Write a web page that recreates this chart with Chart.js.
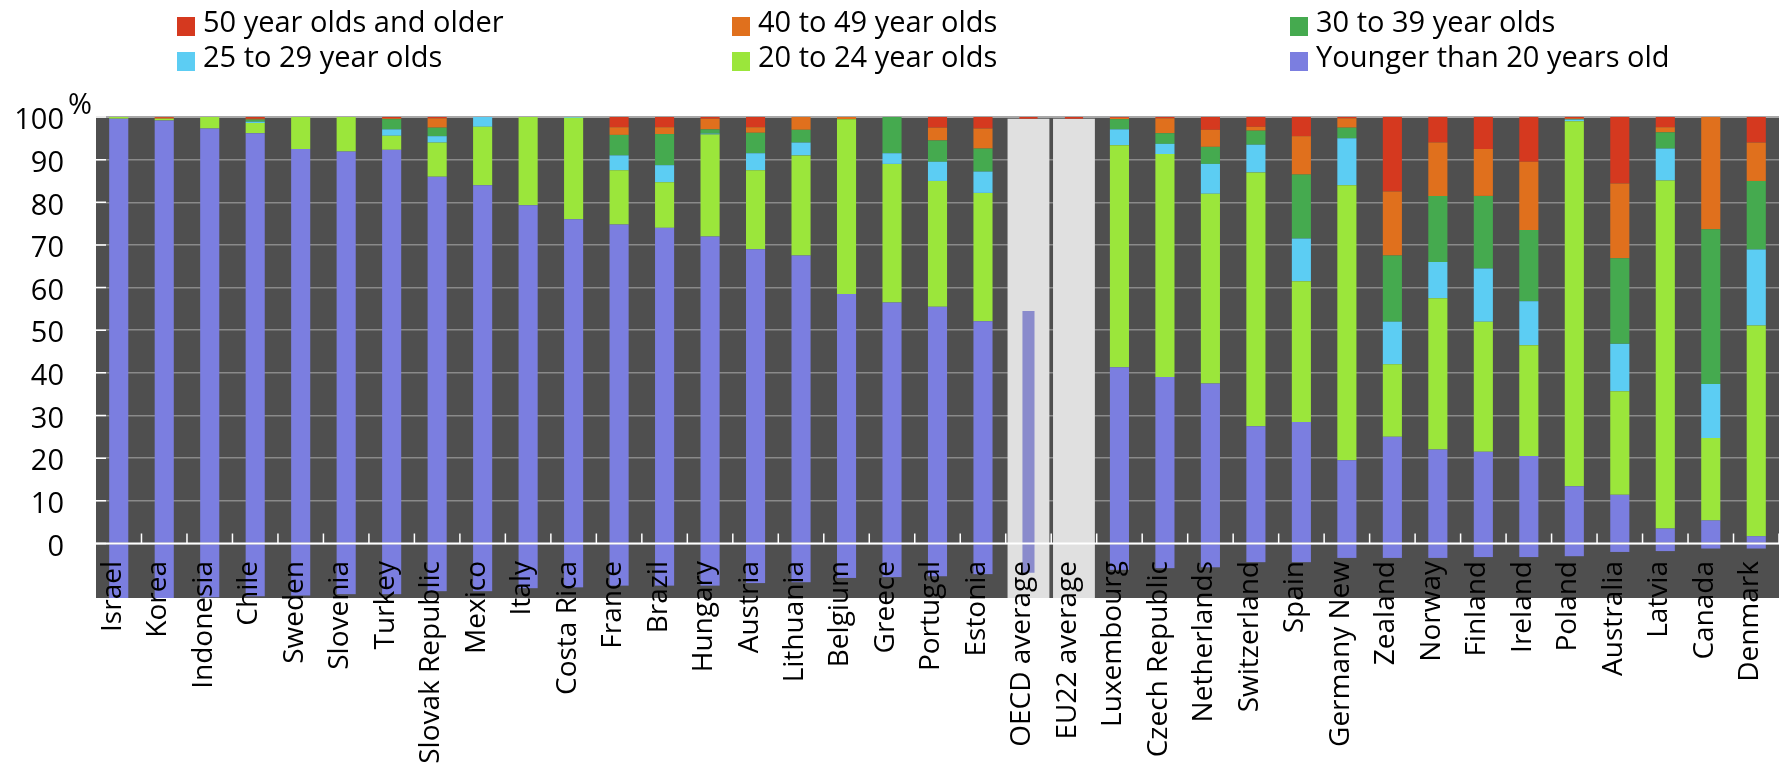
<!DOCTYPE html>
<html>
<head>
<meta charset="utf-8">
<script src="https://cdn.jsdelivr.net/npm/chart.js@4.4.0/dist/chart.umd.min.js"></script>
<style>
html,body{margin:0;padding:0;background:#ffffff;}
canvas{display:block;}
</style>
</head>
<body>
<canvas id="chart" width="1787" height="774"></canvas>
<script>
// ---------- data ----------
const categories = ["Israel","Korea","Indonesia","Chile","Sweden","Slovenia","Turkey","Slovak Republic","Mexico","Italy","Costa Rica","France","Brazil","Hungary","Austria","Lithuania","Belgium","Greece","Portugal","Estonia","OECD average","EU22 average","Luxembourg","Czech Republic","Netherlands","Switzerland","Spain","Germany New","Zealand","Norway","Finland","Ireland","Poland","Australia","Latvia","Canada","Denmark"];

const under20   = [99.6,99.2,97.3,96.2,92.5,91.9,92.3,86,84,79.3,76,74.8,74,72,69,67.5,58.5,56.5,55.5,52.1,null,null,41.3,39,37.5,27.5,28.5,19.5,25,22,21.5,20.5,13.4,11.4,3.5,5.4,1.7];
const age20to24 = [0.4,0.4,2.7,2.4,7.5,8.1,3.3,8,13.7,20.7,23.8,12.7,10.7,23.9,18.5,23.5,41,32.5,29.5,30.1,null,null,52.1,52.3,44.5,59.5,33,64.5,17,35.5,30.5,26,85.6,24.3,81.6,19.3,49.4];
const age25to29 = [0,0,0,0.3,0,0,1.5,1.5,2.3,0,0.2,3.5,4,0.2,4,3,0,2.5,4.5,5.0,null,null,3.7,2.4,7,6.5,10,11,10,8.5,12.5,10.3,0.4,11.1,7.5,12.7,17.8];
const age30to39 = [0,0,0,0.5,0,0,2.4,2,0,0,0,4.8,7.3,1.0,4.8,3,0,8.5,5,5.4,null,null,2.4,2.5,4,3.3,15,2.5,15.5,15.5,17,16.7,0.1,20.1,3.8,36.3,16.1];
const age40to49 = [0,0.2,0,0.2,0,0,0.2,2.2,0,0,0,1.8,1.6,2.5,1.3,3,0.5,0,3,4.7,null,null,0.3,3.5,4,0.9,9,2.2,15,12.5,11,16,0.2,17.5,1.2,26.3,9];
const age50plus = [0,0.2,0,0.4,0,0,0.3,0.3,0,0,0,2.4,2.4,0.4,2.4,0,0,0,2.5,2.7,null,null,0.2,0.3,3,2.3,4.5,0.3,17.5,6,7.5,10.5,0.3,15.6,2.4,0,6];
// purple part of each bar drawn below the zero line in the original
const belowZero = [-12.8,-12.8,-12.6,-12.4,-12.2,-11.9,-11.9,-11.2,-11.2,-10.5,-10.3,-9.9,-9.9,-9.9,-9.3,-9.1,-8.1,-7.9,-7.7,-7.2,null,null,-6.2,-5.8,-5.6,-4.4,-4.4,-3.4,-3.4,-3.4,-3.2,-3.2,-3.0,-2.0,-1.8,-1.2,-1.2];

// averages (highlighted columns)
const averageBand = [{x:"OECD average", y:[-12.8, 99.6]}, {x:"EU22 average", y:[-12.8, 99.6]}];
const averageTop  = [{x:"OECD average", y:[99.6, 100]}, {x:"EU22 average", y:[99.6, 100]}];
const oecdUnder20 = [{x:"OECD average", y:[-6.9, 54.5]}];

const yTickValues = [0,10,20,30,40,50,60,70,80,90,100];
const seriesLabels = ["Younger than 20 years old","20 to 24 year olds","25 to 29 year olds","30 to 39 year olds","40 to 49 year olds","50 year olds and older"];
const seriesColors = ["#7b7ee0","#9be63b","#5ccdf3","#45aa4f","#e0701d","#d5391f"];
const legendRows = [
  ["50 year olds and older","40 to 49 year olds","30 to 39 year olds"],
  ["25 to 29 year olds","20 to 24 year olds","Younger than 20 years old"]
];

// ---------- chart ----------
const FONT = '"Open Sans", "Noto Sans", sans-serif';
const seriesData = [under20, age20to24, age25to29, age30to39, age40to49, age50plus];

const common = { borderWidth: 0, categoryPercentage: 1.0, grouped: false };
const datasets = seriesData.map((d, i) => Object.assign({
  label: seriesLabels[i],
  data: d,
  backgroundColor: seriesColors[i],
  barPercentage: 0.42,
  xAxisID: 'x',
  order: 1
}, common));
datasets.push(Object.assign({
  label: 'below',
  data: belowZero,
  backgroundColor: seriesColors[0],
  barPercentage: 0.42,
  xAxisID: 'x',
  order: 1
}, common));
datasets.push(Object.assign({
  label: 'avgBand',
  data: averageBand,
  backgroundColor: '#e0e0e0',
  barPercentage: 0.92,
  xAxisID: 'xb',
  order: 5
}, common));
datasets.push(Object.assign({
  label: 'oecdUnder20',
  data: oecdUnder20,
  backgroundColor: '#8a8bcc',
  barPercentage: 0.265,
  xAxisID: 'xc',
  order: 0
}, common));
datasets.push(Object.assign({
  label: 'avgTop',
  data: averageTop,
  backgroundColor: seriesColors[5],
  barPercentage: 0.40,
  xAxisID: 'xd',
  order: 0
}, common));

const decor = {
  id: 'decor',
  beforeDraw(chart) {
    const {ctx, chartArea: a} = chart;
    ctx.save();
    ctx.fillStyle = '#4f4f4f';
    ctx.fillRect(a.left, a.top, a.right - a.left, a.bottom - a.top);
    ctx.restore();
  },
  afterDatasetsDraw(chart) {
    const {ctx, chartArea: a, scales} = chart;
    const x = scales.x, y = scales.y;
    const y0 = y.getPixelForValue(0);
    ctx.save();
    ctx.strokeStyle = '#ffffff';
    ctx.lineWidth = 2;
    ctx.beginPath();
    ctx.moveTo(a.left, y0); ctx.lineTo(a.right, y0);
    ctx.stroke();
    const step = x.getPixelForValue(1) - x.getPixelForValue(0);
    ctx.lineWidth = 1.5;
    ctx.beginPath();
    for (let i = 0; i < categories.length; i++) {
      const bx = x.getPixelForValue(i) + step / 2;
      ctx.moveTo(bx, y0); ctx.lineTo(bx, y0 - 10);
    }
    yTickValues.forEach(v => {
      const py = y.getPixelForValue(v);
      ctx.moveTo(a.left, py); ctx.lineTo(a.left + 10, py);
    });
    ctx.stroke();
    ctx.restore();
  },
  afterDraw(chart) {
    const {ctx, chartArea: a, scales} = chart;
    ctx.save();
    ctx.fillStyle = '#000000';
    ctx.font = '29px ' + FONT;
    ctx.textBaseline = 'alphabetic';
    ctx.textAlign = 'left';
    // percent sign next to the top tick label
    ctx.fillText('%', a.left - 28, scales.y.getPixelForValue(100) - 3);
    // legend
    const colX = [177, 732, 1290];
    const rowY = [32, 67];
    legendRows.forEach((row, r) => {
      row.forEach((lab, c) => {
        const idx = seriesLabels.indexOf(lab);
        ctx.fillStyle = seriesColors[idx];
        ctx.fillRect(colX[c], rowY[r] - 15, 18, 19);
        ctx.fillStyle = '#000000';
        ctx.fillText(lab, colX[c] + 26, rowY[r]);
      });
    });
    ctx.restore();
  }
};

const hiddenAxis = { type: 'category', display: false, offset: true, stacked: false, grid: { display: false }, ticks: { autoSkip: false } };

new Chart(document.getElementById('chart'), {
  type: 'bar',
  data: { labels: categories, datasets },
  options: {
    responsive: false,
    animation: false,
    devicePixelRatio: 1,
    layout: { padding: { top: 117, right: 8, left: 0, bottom: 0 } },
    plugins: { legend: { display: false }, tooltip: { enabled: false } },
    scales: {
      x: {
        stacked: true,
        offset: true,
        grid: { display: false, drawTicks: false },
        border: { display: false },
        ticks: {
          z: 1,
          autoSkip: false,
          maxRotation: 90,
          minRotation: 90,
          padding: -37,
          labelOffset: -6,
          color: '#000000',
          font: { family: FONT, size: 28 }
        },
        afterFit(scale) {
          scale.height = 176;
          // let the rotated labels run up into the plot area, as in the original
          scale._computeLabelArea = () => undefined;
        }
      },
      xb: hiddenAxis,
      xc: hiddenAxis,
      xd: hiddenAxis,
      y: {
        stacked: true,
        min: -12.8,
        max: 100,
        border: { display: false },
        grid: {
          drawTicks: false,
          color: (c) => (c.tick && c.tick.value === 100) ? '#a8a8a8' : '#8a8a8a',
          lineWidth: (c) => (c.tick && c.tick.value === 100) ? 2 : 1.5
        },
        afterBuildTicks(scale) { scale.ticks = yTickValues.map(v => ({ value: v })); },
        ticks: {
          padding: 32,
          labelOffset: 4,
          color: '#000000',
          font: { family: FONT, size: 29 }
        },
        afterFit(scale) { scale.width = 96; }
      }
    }
  },
  plugins: [decor]
});
</script>
</body>
</html>
